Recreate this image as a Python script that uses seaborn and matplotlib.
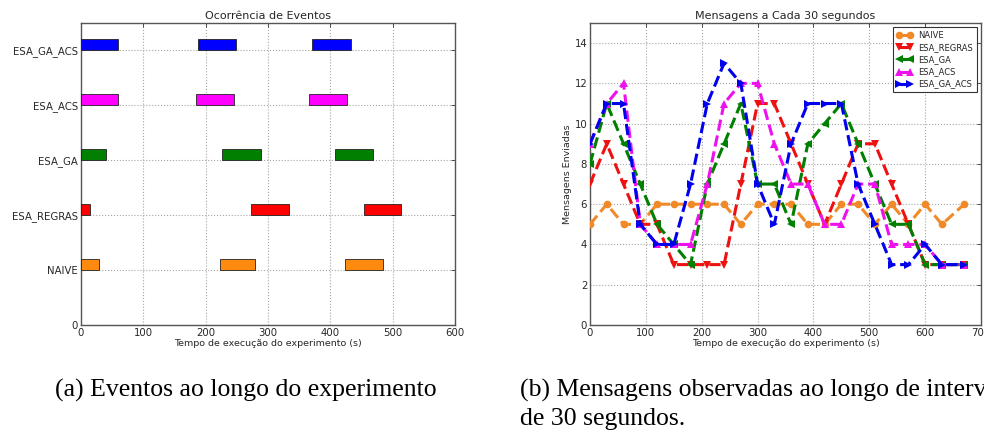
import matplotlib
matplotlib.use("Agg")
import matplotlib.pyplot as plt
import seaborn as sns
import pandas as pd

# ---------------- data: left chart (event occurrences) ----------------
event_labels = ["NAIVE", "ESA_REGRAS", "ESA_GA", "ESA_ACS", "ESA_GA_ACS"]
naive_events = [(0, 29), (223, 56), (423, 61)]
regras_events = [(0, 15), (273, 61), (454, 60)]
ga_events = [(0, 40), (226, 62), (408, 61)]
acs_events = [(0, 60), (185, 61), (366, 61)]
ga_acs_events = [(0, 60), (187, 61), (371, 62)]
event_colors = ["#ff8a10", "#ff0000", "#007f00", "#ff00ff", "#0000ff"]

# ---------------- data: right chart (messages every 30 s) ----------------
times = [0, 30, 60, 90, 120, 150, 180, 210, 240, 270, 300, 330, 360, 390,
         420, 450, 480, 510, 540, 570, 600, 630, 670]
naive_msgs = [5, 6, 5, 5, 6, 6, 6, 6, 6, 5, 6, 6, 6, 5, 5, 6, 6, 5, 6, 5, 6, 5, 6]
regras_msgs = [7, 9, 7, 5, 5, 3, 3, 3, 3, 7, 11, 11, 9, 7, 5, 7, 9, 9, 7, 5, 3, 3, 3]
ga_msgs = [8, 11, 9, 7, 5, 4, 3, 7, 9, 11, 7, 7, 5, 9, 10, 11, 9, 7, 5, 5, 3, 3, 3]
acs_msgs = [9, 11, 12, 5, 4, 4, 4, 7, 11, 12, 12, 9, 7, 7, 5, 5, 7, 7, 4, 4, 4, 3, 3]
ga_acs_msgs = [9, 11, 11, 5, 4, 4, 7, 11, 13, 12, 7, 5, 9, 11, 11, 11, 7, 5, 3, 3, 4, 3, 3]
series_names = ["NAIVE", "ESA_REGRAS", "ESA_GA", "ESA_ACS", "ESA_GA_ACS"]
series_colors = ["#f08a28", "#ee1111", "#007f00", "#ee11ee", "#0000ee"]
series_markers = ["o", "v", "<", "^", ">"]

sns.set_style("white")
plt.rcParams["font.family"] = ["DejaVu Sans"]

W, H = 984, 437
fig = plt.figure(figsize=(W / 100, H / 100), dpi=100)

def px_axes(l, r, t, b):
    return fig.add_axes([l / W, 1 - b / H, (r - l) / W, (b - t) / H])

grid_kw = dict(linestyle=":", color="#a5a5a5", linewidth=0.8)

# ---------------- left chart ----------------
ax1 = px_axes(81, 455, 23, 325)
all_events = [naive_events, regras_events, ga_events, acs_events, ga_acs_events]
for i, (evs, col) in enumerate(zip(all_events, event_colors)):
    ypos = i + 1
    ax1.barh([ypos] * len(evs), [w for s, w in evs], left=[s for s, w in evs],
             height=0.2, align="edge", color=col, edgecolor="#222222", linewidth=0.6,
             zorder=3)
ax1.set_xlim(0, 600)
ax1.set_ylim(0, 5.5)
ax1.set_yticks(range(0, 6))
ax1.set_yticklabels(["0"] + event_labels)
ax1.set_xticks(range(0, 601, 100))
ax1.set_title("Ocorrência de Eventos", fontsize=8, pad=3)
ax1.set_xlabel("Tempo de execução do experimento (s)", fontsize=6.8, labelpad=1)
ax1.grid(True, **grid_kw)

# ---------------- right chart ----------------
ax2 = px_axes(590, 981, 23, 325)
all_series = [naive_msgs, regras_msgs, ga_msgs, acs_msgs, ga_acs_msgs]
for name, vals, col, mk in zip(series_names, all_series, series_colors, series_markers):
    df = pd.DataFrame({"t": times, "v": vals})
    sns.lineplot(data=df, x="t", y="v", ax=ax2, color=col, marker=mk,
                 linestyle="--", linewidth=2.2, markersize=5.5, markeredgewidth=0,
                 label=name, zorder=3)
ax2.set_xlim(0, 700)
ax2.set_ylim(0, 15)
ax2.set_yticks(range(0, 15, 2))
ax2.set_xticks(range(0, 701, 100))
ax2.set_title("Mensagens a Cada 30 segundos", fontsize=8, pad=3)
ax2.set_xlabel("Tempo de execução do experimento (s)", fontsize=6.8, labelpad=1)
ax2.set_ylabel("Mensagens Enviadas", fontsize=6.8, labelpad=2)
ax2.grid(True, **grid_kw)
leg = ax2.legend(loc="upper right", fontsize=6, numpoints=2, frameon=True,
                 fancybox=False, edgecolor="black", borderpad=0.45,
                 handlelength=1.9, labelspacing=0.38, handletextpad=0.7,
                 borderaxespad=0.5)
leg.get_frame().set_linewidth(0.8)

for ax in (ax1, ax2):
    ax.tick_params(direction="in", top=True, right=True, length=3,
                   width=0.6, labelsize=7.3, pad=2, color="#333333")
    for sp in ax.spines.values():
        sp.set_color("#555555")
        sp.set_linewidth(1.0)

# ---------------- captions ----------------
cap_kw = dict(fontsize=18.5, family=["Liberation Serif", "DejaVu Serif"],
              va="center", ha="left", color="black")
fig.text(55 / W, 1 - 390 / H, "(a) Eventos ao longo do experimento", **cap_kw)
fig.text(520 / W, 1 - 390 / H, "(b) Mensagens observadas ao longo de intervalos", **cap_kw)
fig.text(520 / W, 1 - 419 / H, "de 30 segundos.", **cap_kw)

fig.savefig("out.png", dpi=100)
